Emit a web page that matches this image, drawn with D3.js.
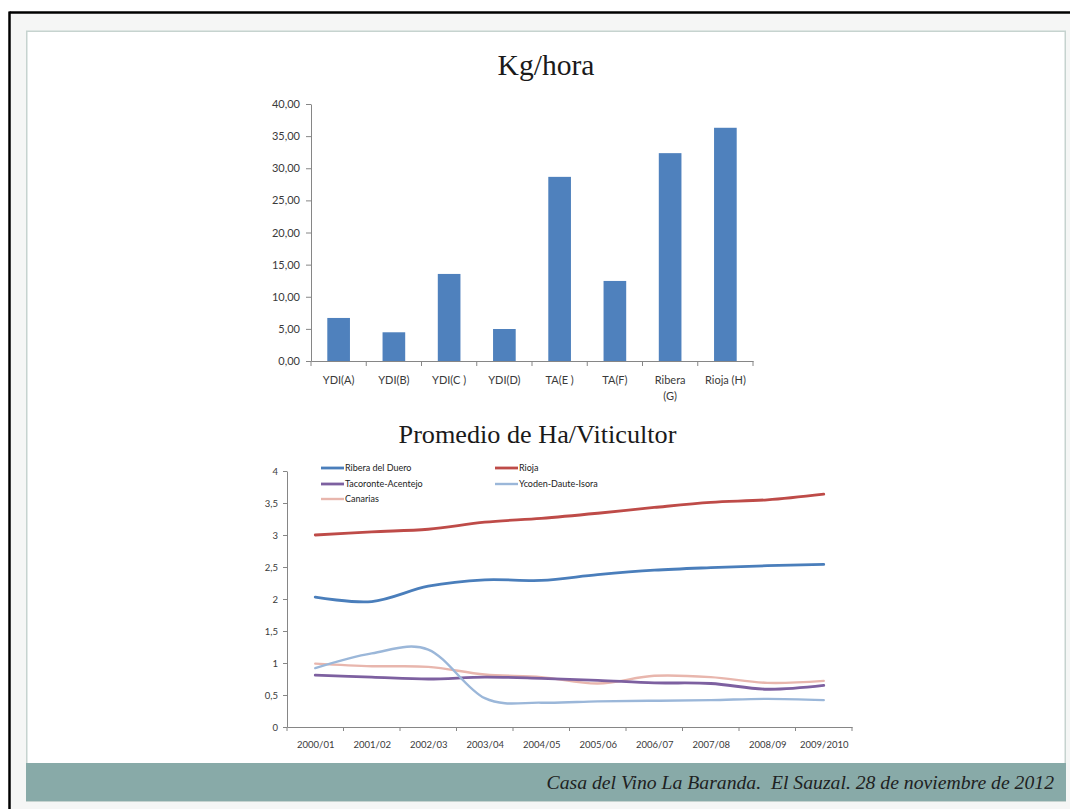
<!DOCTYPE html>
<html><head><meta charset="utf-8">
<script src="https://cdn.jsdelivr.net/npm/d3@7"></script>
<style>body{margin:0;background:#fff}svg{display:block}</style>
</head><body><svg id="c" width="1070" height="809"></svg>
<script>
// ---- data ----
const barCategories = ["YDI(A)","YDI(B)","YDI(C )","YDI(D)","TA(E )","TA(F)","Ribera\n(G)","Rioja (H)"];
const kgHora = [6.70, 4.47, 13.55, 4.98, 28.66, 12.46, 32.35, 36.30];
const barTicks = [0,5,10,15,20,25,30,35,40];

const seasons = ["2000/01","2001/02","2002/03","2003/04","2004/05","2005/06","2006/07","2007/08","2008/09","2009/2010"];
const riberaDuero = [2.03, 1.96, 2.20, 2.30, 2.29, 2.38, 2.45, 2.49, 2.52, 2.54];
const rioja = [3.00, 3.05, 3.09, 3.20, 3.26, 3.34, 3.43, 3.51, 3.55, 3.64];
const tacoronteAcentejo = [0.81, 0.78, 0.75, 0.78, 0.76, 0.73, 0.69, 0.68, 0.59, 0.65];
const ycodenDauteIsora = [0.92, 1.15, 1.21, 0.45, 0.38, 0.40, 0.41, 0.42, 0.44, 0.42];
const canarias = [0.99, 0.95, 0.94, 0.82, 0.78, 0.68, 0.80, 0.78, 0.69, 0.72];
const seriesNames = ["Ribera del Duero","Rioja","Tacoronte-Acentejo","Ycoden-Daute-Isora","Canarias"];
const lineTicks = [0,0.5,1,1.5,2,2.5,3,3.5,4];

const titleBar = "Kg/hora";
const titleLine = "Promedio de Ha/Viticultor";
const footerText = "Casa del Vino La Baranda.  El Sauzal. 28 de noviembre de 2012";

// ---- drawing ----
const svg = d3.select("#c");
const comma = v => String(v).replace(".", ",");
const axisCol = "#868686", txtCol = "#3a3a3a";
const tickFont = "Lato, 'Noto Sans', sans-serif";

function fit(sel, w) {
  const l = sel.node().getComputedTextLength();
  const fs = parseFloat(sel.attr("font-size"));
  sel.attr("font-size", fs * w / l);
}

// slide frame
svg.append("rect").attr("x",0).attr("y",0).attr("width",1070).attr("height",809).attr("fill","#fff");
svg.append("rect").attr("x",10).attr("y",13).attr("width",1060).attr("height",796).attr("fill","#f5f6f5");
svg.append("rect").attr("x",26.75).attr("y",31.25).attr("width",1038.5).attr("height",770).attr("fill","#fff")
  .attr("stroke","#c6d3cf").attr("stroke-width",1.5);
svg.append("line").attr("x1",9.5).attr("x2",1070).attr("y1",12.5).attr("y2",12.5).attr("stroke","#000").attr("stroke-width",2.5);
svg.append("line").attr("x1",9.5).attr("x2",9.5).attr("y1",11.5).attr("y2",809).attr("stroke","#000").attr("stroke-width",2.5);

// footer band
svg.append("rect").attr("x",26).attr("y",763).attr("width",1040).attr("height",38).attr("fill","#88aaa8");
const ft = svg.append("text").attr("x",1054).attr("y",789).attr("text-anchor","end")
  .style("white-space","pre")
  .attr("font-family","'Liberation Serif', serif").attr("font-style","italic")
  .attr("font-size",18).attr("fill","#1e2222").text(footerText);
fit(ft, 508);

// ---- bar chart ----
const bx0 = 311, bx1 = 753, by0 = 361, by1 = 104;
const xb = d3.scaleBand().domain(barCategories).range([bx0, bx1]).paddingInner(0.59).paddingOuter(0.295);
const yb = d3.scaleLinear().domain([0, 40]).range([by0, by1]);

const t1 = svg.append("text").attr("x",546).attr("y",75).attr("text-anchor","middle")
  .attr("font-family","'Liberation Serif', serif").attr("font-size",28).attr("fill","#1a1a1a").text(titleBar);
fit(t1, 97);

const gb = svg.append("g");
gb.selectAll("rect.bar").data(kgHora).join("rect").attr("class","bar")
  .attr("x",(d,i)=>xb(barCategories[i])).attr("width",xb.bandwidth())
  .attr("y",d=>yb(d)).attr("height",d=>yb(0)-yb(d)).attr("fill","#4f81bd");

const yAxB = gb.append("g").attr("transform",`translate(${bx0},0)`)
  .call(d3.axisLeft(yb).tickValues(barTicks).tickFormat(d=>d3.format(".2f")(d).replace(".",",")).tickSize(5).tickSizeOuter(0).tickPadding(6));
const xAxB = gb.append("g").attr("transform",`translate(0,${by0})`)
  .call(d3.axisBottom(xb).tickSize(0).tickSizeOuter(0).tickPadding(15));
xAxB.selectAll(".tick text").each(function(d){
  const parts = d.split("\n");
  const t = d3.select(this); t.text(null);
  parts.forEach((p,i)=>t.append("tspan").attr("x",0).attr("dy", i===0 ? "0.71em" : "1.45em").text(p));
});
xAxB.selectAll(".boundary").data(d3.range(barCategories.length+1)).join("line").attr("class","boundary")
  .attr("x1",k=>bx0+k*xb.step()).attr("x2",k=>bx0+k*xb.step()).attr("y1",0).attr("y2",5)
  .attr("stroke",axisCol);
[yAxB, xAxB].forEach(a=>{
  a.select(".domain").attr("stroke",axisCol);
  a.selectAll(".tick line").attr("stroke",axisCol);
  a.selectAll("text").attr("fill",txtCol).attr("font-family",tickFont).attr("font-size",11);
});

// ---- line chart ----
const lx0 = 287, lx1 = 852, ly0 = 727, ly1 = 471;
const xl = d3.scalePoint().domain(seasons).range([lx0, lx1]).padding(0.5);
const yl = d3.scaleLinear().domain([0, 4]).range([ly0, ly1]);
const stepL = (lx1 - lx0) / seasons.length;

const t2 = svg.append("text").attr("x",537.5).attr("y",443).attr("text-anchor","middle")
  .attr("font-family","'Liberation Serif', serif").attr("font-size",24).attr("fill","#1a1a1a").text(titleLine);
fit(t2, 278);

const gl = svg.append("g");
const yAxL = gl.append("g").attr("transform",`translate(${lx0},0)`)
  .call(d3.axisLeft(yl).tickValues(lineTicks).tickFormat(comma).tickSize(4).tickSizeOuter(0).tickPadding(5));
const xAxL = gl.append("g").attr("transform",`translate(0,${ly0})`)
  .call(d3.axisBottom(xl).tickSize(0).tickSizeOuter(0).tickPadding(14));
xAxL.selectAll(".boundary").data(d3.range(seasons.length+1)).join("line").attr("class","boundary")
  .attr("x1",k=>lx0+k*stepL).attr("x2",k=>lx0+k*stepL).attr("y1",0).attr("y2",4).attr("stroke",axisCol);
[yAxL, xAxL].forEach(a=>{
  a.select(".domain").attr("stroke",axisCol);
  a.selectAll(".tick line").attr("stroke",axisCol);
  a.selectAll("text").attr("fill",txtCol).attr("font-family",tickFont).attr("font-size",9.5);
});

const seriesData = [riberaDuero, rioja, tacoronteAcentejo, ycodenDauteIsora, canarias];
const seriesColors = ["#4a7ebb","#be4b48","#7d60a0","#9bb7d9","#e8b6ad"];
const seriesWidths = [2.8, 2.8, 2.8, 2.4, 2.4];
const line = d3.line().x((d,i)=>xl(seasons[i])).y(d=>yl(d)).curve(d3.curveCatmullRom.alpha(0));
const drawOrder = [0,1,4,2,3];
drawOrder.forEach(s=>{
  gl.append("path").datum(seriesData[s]).attr("d",line).attr("fill","none")
    .attr("stroke",seriesColors[s]).attr("stroke-width",seriesWidths[s])
    .attr("stroke-linejoin","round").attr("stroke-linecap","round");
});

// legend
const legCols = [321, 495], legRows = [468, 484, 499];
seriesNames.forEach((n,i)=>{
  const cx = legCols[i%2], cy = legRows[Math.floor(i/2)];
  const g = gl.append("g").attr("transform",`translate(${cx},${cy})`);
  g.append("line").attr("x1",0).attr("x2",23).attr("y1",0).attr("y2",0)
    .attr("stroke",seriesColors[i]).attr("stroke-width",seriesWidths[i]);
  g.append("text").attr("x",24).attr("y",0).attr("dy","0.35em").attr("fill","#222")
    .attr("font-family",tickFont).attr("font-size",9).text(n);
});
</script></body></html>
